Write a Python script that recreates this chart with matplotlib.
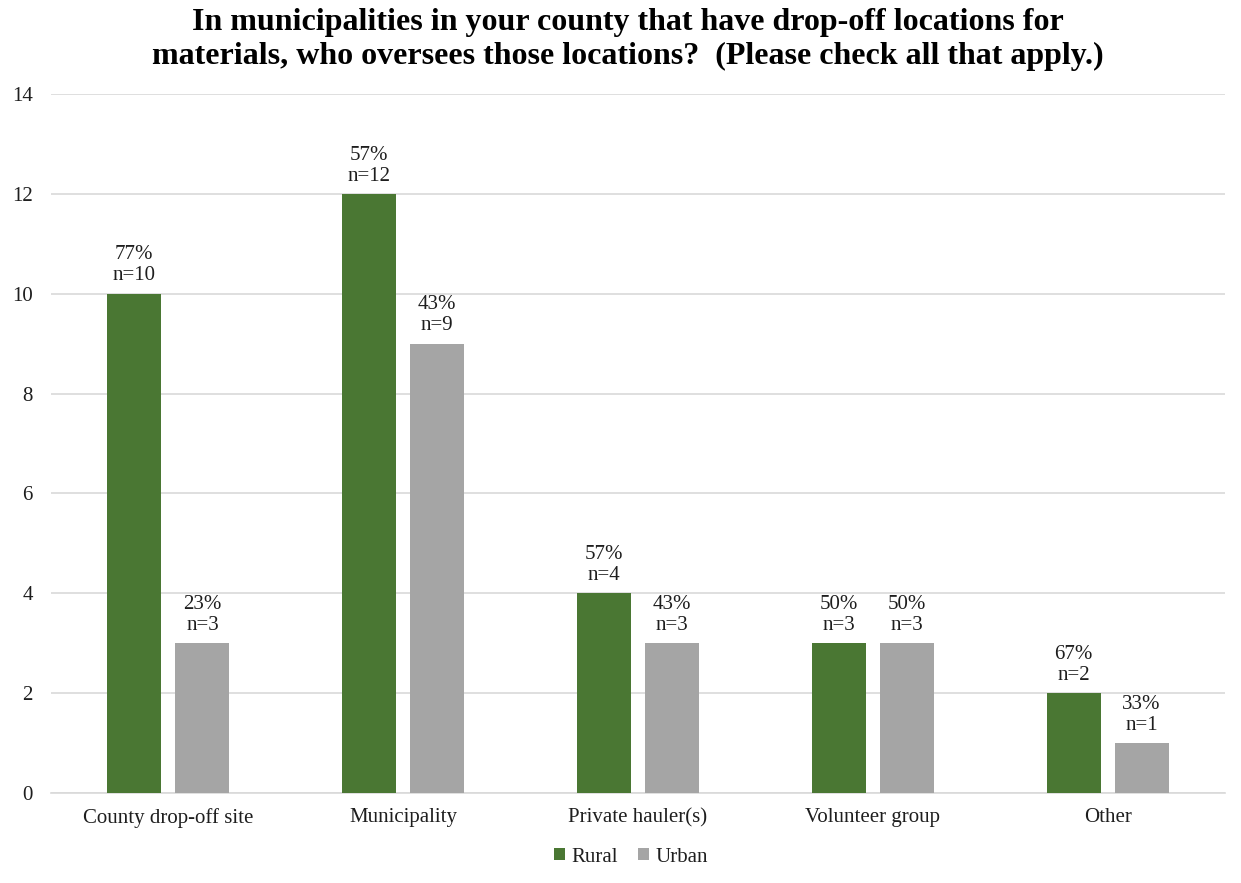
import matplotlib
matplotlib.use("Agg")
import matplotlib.pyplot as plt
import numpy as np

categories = ["County drop-off site", "Municipality", "Private hauler(s)",
              "Volunteer group", "Other"]
rural = [10, 12, 4, 3, 2]
urban = [3, 9, 3, 3, 1]
rural_pct = ["77%", "57%", "57%", "50%", "67%"]
urban_pct = ["23%", "43%", "43%", "50%", "33%"]
yticks = [0, 2, 4, 6, 8, 10, 12, 14]

GREEN = "#4A7733"
GRAY = "#A5A5A5"
TEXT = "#1E1E1E"

plt.rcParams["font.family"] = ["Liberation Serif", "DejaVu Serif"]

fig = plt.figure(figsize=(12.41, 8.83), dpi=100)
ax = fig.add_axes([51 / 1241, 90 / 883, 1174 / 1241, 699 / 883])

x = np.arange(len(categories))
w = 0.23
off = 0.145
b1 = ax.bar(x - off, rural, w, color=GREEN, label="Rural", zorder=3)
b2 = ax.bar(x + off, urban, w, color=GRAY, label="Urban", zorder=3)

for bars, vals, pcts in ((b1, rural, rural_pct), (b2, urban, urban_pct)):
    for bar, v, p in zip(bars, vals, pcts):
        ax.annotate(f"{p}\nn={v}", (bar.get_x() + bar.get_width() / 2, v),
                    xytext=(0, 6), textcoords="offset points",
                    ha="center", va="bottom", fontsize=15, color=TEXT,
                    linespacing=1.14)

ax.set_xlim(-0.5, len(categories) - 0.5)
ax.set_ylim(0, 14)
ax.set_yticks(yticks)
ax.set_xticks(x)
ax.set_xticklabels(categories)
ax.tick_params(axis="both", length=0, labelsize=15, colors=TEXT)
ax.tick_params(axis="x", pad=11)
ax.tick_params(axis="y", pad=13)
ax.grid(axis="y", color="#D9D9D9", linewidth=1.2, zorder=0)
for s in ("top", "right", "left"):
    ax.spines[s].set_visible(False)
ax.spines["bottom"].set_color("#D9D9D9")
ax.spines["bottom"].set_linewidth(1.2)

fig.text(628 / 1241, 1 - 8 / 883,
         "In municipalities in your county that have drop-off locations for\n"
         "materials, who oversees those locations?  (Please check all that apply.)",
         fontsize=23, fontweight="bold", ha="center", va="top", linespacing=1.22,
         color="#000000")

fig.legend(handles=[b1, b2], loc="center", bbox_to_anchor=(631 / 1241, 1 - 857 / 883),
           ncol=2, frameon=False, fontsize=15, handlelength=0.5, handleheight=0.5,
           handletextpad=0.3, columnspacing=1.0, labelcolor=TEXT)

fig.savefig("out.png", dpi=100)
